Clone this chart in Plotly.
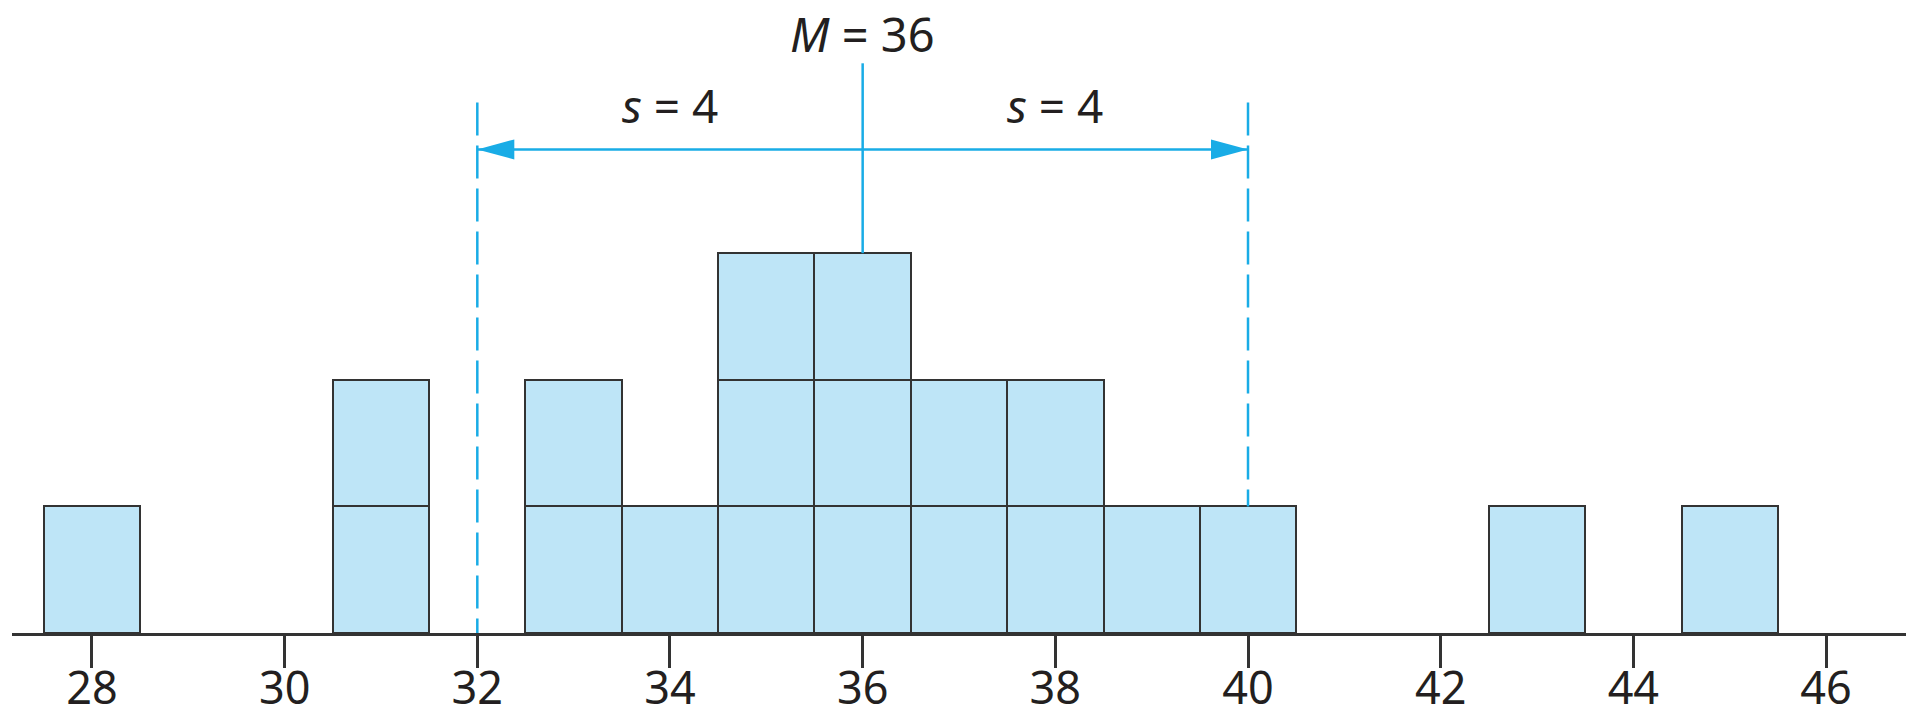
import plotly.graph_objects as go

# scores and how many times each occurs
scores = [28, 31, 33, 34, 35, 36, 37, 38, 39, 40, 43, 45]
counts = [1, 2, 2, 1, 3, 3, 2, 2, 1, 1, 1, 1]
tick_vals = [28, 30, 32, 34, 36, 38, 40, 42, 44, 46]
mean = 36
sd = 4

BOX_FILL = "#bee5f7"
EDGE = "#333333"
BLUE = "#19ace6"
TEXT = "#231f20"
FONT = "Noto Sans"

fig = go.Figure()

# one stacked trace per layer so every score is its own box
for layer in range(1, max(counts) + 1):
    xs = [s for s, c in zip(scores, counts) if c >= layer]
    fig.add_trace(go.Bar(
        x=xs, y=[1] * len(xs), width=1,
        marker=dict(color=BOX_FILL, line=dict(color=EDGE, width=2.5)),
        hoverinfo="skip", showlegend=False,
    ))

count_at = dict(zip(scores, counts))
lo, hi = mean - sd, mean + sd
top_dash = 4.19
arrow_y = 3.82

# mean line
fig.add_shape(type="line", x0=mean, x1=mean, y0=4.5, y1=count_at.get(mean, 0),
              line=dict(color=BLUE, width=2.5), layer="above")
# +/- one sd dashed lines (drawn top-down so the dash pattern starts at the top)
for xv in (lo, hi):
    fig.add_shape(type="line", x0=xv, x1=xv, y0=top_dash, y1=count_at.get(xv, 0),
                  line=dict(color=BLUE, width=2.5, dash="33px,10px"), layer="above")
# arrow shaft
fig.add_shape(type="line", x0=lo, x1=hi, y0=arrow_y, y1=arrow_y,
              line=dict(color=BLUE, width=2.5), layer="above")
# arrow heads, sized in pixels, anchored at the sd positions
for xv, d in ((lo, 1), (hi, -1)):
    fig.add_shape(type="path", xsizemode="pixel", ysizemode="pixel",
                  xanchor=xv, yanchor=arrow_y,
                  path=f"M0,0 L{37 * d},10 L{37 * d},-10 Z",
                  fillcolor=BLUE, line=dict(color=BLUE, width=0), layer="above")

fig.add_annotation(x=mean, y=4.73, text=f"<i>M</i> = {mean}", showarrow=False,
                   font=dict(size=47, color=TEXT, family=FONT))
for xv in ((lo + mean) / 2, (hi + mean) / 2):
    fig.add_annotation(x=xv, y=4.17, text=f"<i>s</i> = {sd}", showarrow=False,
                       font=dict(size=46, color=TEXT, family=FONT))

fig.update_layout(
    width=1913, height=717,
    barmode="stack", bargap=0,
    margin=dict(l=12, r=7, t=0, b=84),
    paper_bgcolor="white", plot_bgcolor="white",
    xaxis=dict(range=[27.17, 46.83], tickvals=tick_vals, showgrid=False, zeroline=False,
               showline=True, linecolor=EDGE, linewidth=2.5, automargin=False,
               ticks="outside", ticklen=32, tickwidth=2.5, tickcolor=EDGE,
               ticklabelstandoff=-18,
               tickfont=dict(size=45, color=TEXT, family=FONT)),
    yaxis=dict(range=[0, 5], visible=False, automargin=False),
)

fig.write_html("out.html", config={"displayModeBar": False},
               post_script="document.body.style.margin='0';")
